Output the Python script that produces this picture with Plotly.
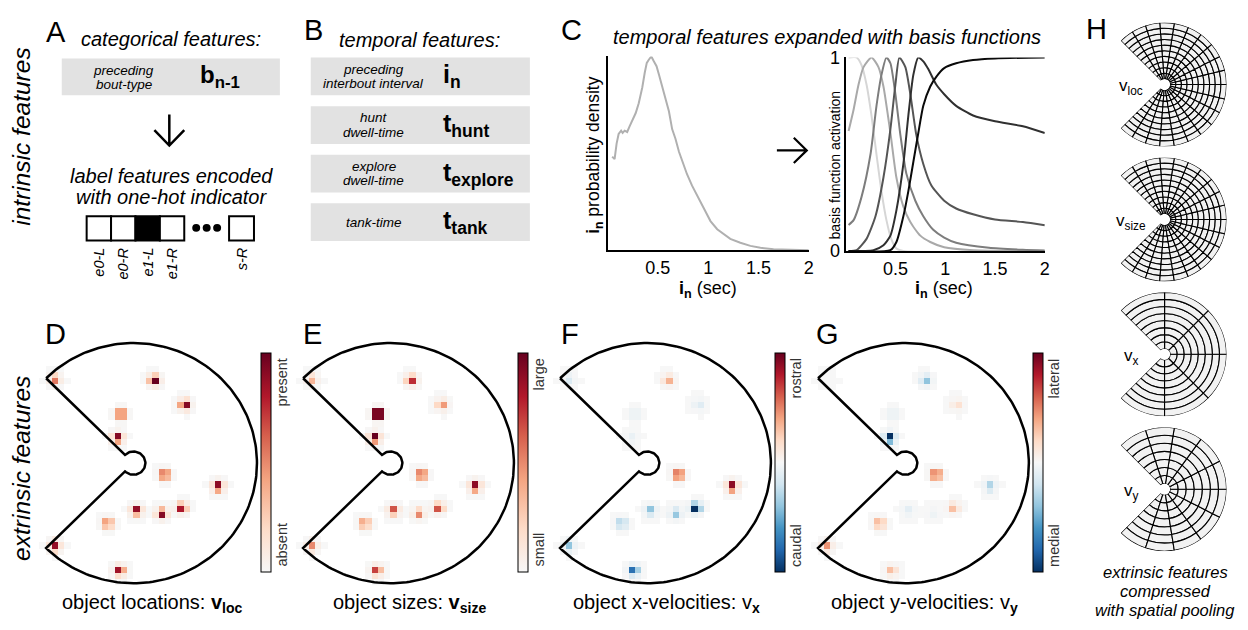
import numpy as np
import plotly.graph_objects as go

W, H = 1248, 630
FONT = "Liberation Sans, Arial, Helvetica, sans-serif"

# ------------------------------------------------------------------ data
ONEHOT_LABELS = ["e0-L", "e0-R", "e1-L", "e1-R", "s-R"]
ONEHOT_ACTIVE = [0, 0, 1, 0, 0]

TEMPORAL_DESC = [["preceding", "interbout interval"], ["hunt", "dwell-time"],
                 ["explore", "dwell-time"], ["tank-time"]]
TEMPORAL_SYM = ["i", "t", "t", "t"]
TEMPORAL_SUB = ["n", "hunt", "explore", "tank"]

# panel C, left: interbout-interval density (normalised)
DENS_X = [0.046, 0.07, 0.09, 0.11, 0.135, 0.15, 0.17, 0.195, 0.22, 0.245, 0.28,
          0.31, 0.345, 0.37, 0.39, 0.41, 0.435, 0.46, 0.487, 0.51, 0.543, 0.576,
          0.61, 0.642, 0.675, 0.71, 0.742, 0.79, 0.84, 0.89, 0.957, 1.023, 1.09,
          1.156, 1.22, 1.32, 1.42, 1.52, 1.65, 1.82, 2.0]
DENS_Y = [0.483, 0.47, 0.55, 0.60, 0.617, 0.605, 0.617, 0.61, 0.64, 0.667, 0.708,
          0.758, 0.84, 0.917, 0.967, 0.983, 1.0, 0.975, 0.95, 0.908, 0.842, 0.783,
          0.717, 0.625, 0.575, 0.508, 0.458, 0.392, 0.333, 0.283, 0.208, 0.15,
          0.108, 0.083, 0.058, 0.038, 0.022, 0.012, 0.005, 0.002, 0.0]

# panel C, right: basis functions
BASIS_X = [
    [0.03, 0.11, 0.16, 0.21, 0.26, 0.31, 0.36, 0.41, 0.46, 0.51, 0.58, 2.0],
    [0.03, 0.08, 0.13, 0.18, 0.26, 0.33, 0.38, 0.45, 0.51, 0.58, 0.65, 0.75, 0.85, 0.99, 1.28, 2.0],
    [0.03, 0.08, 0.16, 0.25, 0.31, 0.36, 0.41, 0.45, 0.5, 0.55, 0.61, 0.7, 0.78, 0.88, 0.99, 1.11, 1.44, 1.78, 2.0],
    [0.03, 0.11, 0.21, 0.3, 0.38, 0.45, 0.5, 0.54, 0.6, 0.65, 0.71, 0.78, 0.86, 0.99, 1.11, 1.28, 1.5, 1.78, 2.0],
    [0.03, 0.28, 0.38, 0.45, 0.51, 0.58, 0.63, 0.68, 0.73, 0.78, 0.83, 0.91, 0.99, 1.11, 1.28, 1.5, 1.78, 2.0],
    [0.03, 0.45, 0.51, 0.58, 0.63, 0.68, 0.73, 0.78, 0.85, 0.91, 0.99, 1.11, 1.28, 1.5, 2.0],
]
BASIS_Y = [
    [1.0, 1.0, 0.96, 0.86, 0.70, 0.50, 0.31, 0.16, 0.06, 0.013, 0.0, 0.0],
    [0.62, 0.73, 0.86, 0.95, 1.0, 0.95, 0.85, 0.61, 0.38, 0.23, 0.15, 0.08, 0.047, 0.02, 0.005, 0.0],
    [0.135, 0.16, 0.28, 0.5, 0.75, 0.91, 1.0, 0.97, 0.81, 0.6, 0.4, 0.26, 0.18, 0.11, 0.07, 0.043, 0.017, 0.007, 0.003],
    [0.0, 0.005, 0.063, 0.18, 0.38, 0.63, 0.86, 1.0, 0.95, 0.81, 0.6, 0.45, 0.34, 0.26, 0.22, 0.19, 0.163, 0.15, 0.133],
    [0.0, 0.005, 0.03, 0.08, 0.21, 0.45, 0.7, 0.91, 1.0, 0.98, 0.94, 0.86, 0.81, 0.75, 0.70, 0.67, 0.645, 0.61],
    [0.0, 0.005, 0.047, 0.18, 0.31, 0.46, 0.61, 0.75, 0.85, 0.9, 0.945, 0.97, 0.987, 0.995, 1.0],
]
BASIS_COLORS = ["#d6d6d6", "#a9a9a9", "#7d7d7d", "#555555", "#303030", "#0a0a0a"]

# panels D-G: object positions on a 40x40 visual-field grid (column, row)
OBJ_COL = [7.0, 22.8, 27.7, 17.5, 17.0, 24.45, 33.0, 20.0, 24.0, 27.2, 15.4, 7.0, 17.3]
OBJ_ROW = [5.75, 5.85, 9.95, 11.5, 15.3, 21.45, 23.3, 27.25, 27.75, 26.8, 29.4, 33.1, 37.1]
VAL_LOC = [0.55, 1.0, 0.92, 0.42, 0.92, 0.5, 0.9, 0.88, 0.92, 0.82, 0.42, 0.88, 0.85]
VAL_SIZE = [0.35, 0.75, 0.45, 0.95, 1.0, 0.5, 0.9, 0.65, 0.5, 0.65, 0.38, 0.5, 0.7]
VAL_VX = [-0.15, 0.35, -0.12, -0.05, -0.07, 0.5, 0.9, -0.4, -0.38, -1.0, -0.25, -0.4, -0.75]
VAL_VY = [0.0, -0.4, 0.15, -0.05, -1.0, 0.45, -0.3, -0.1, -0.05, 0.3, 0.3, 0.45, 0.3]
GRID_N = 40

# panel H: spatial pooling grids
H_LABELS = ["loc", "size", "x", "y"]
H_RINGS = [10, 10, 8, 7]
H_SECTORS = [20, 20, 6, 10]

# ------------------------------------------------------------------ helpers
fig = go.Figure()
shapes, anns = [], []


def ann(x, y, text, size, angle=0, xa="center", ya="middle", color="black"):
    anns.append(dict(x=x, y=y, xref="x", yref="y", text=text, showarrow=False,
                     font=dict(family=FONT, size=size, color=color), textangle=angle,
                     xanchor=xa, yanchor=ya))


def rect(x0, y0, x1, y1, fill, line=0, lc="black"):
    shapes.append(dict(type="rect", xref="x", yref="y", x0=x0, y0=y0, x1=x1, y1=y1,
                       fillcolor=fill, line=dict(width=line, color=lc), layer="below"))


def path(d, width=2.5):
    shapes.append(dict(type="path", xref="x", yref="y", path=d,
                       line=dict(width=width, color="black")))


LET = 29
TITLE = 20

# ------------------------------------------------------------------ Panel A
ann(56, 23, "A", LET)
ann(172, 30, "<i>categorical features:</i>", TITLE)
rect(62, 50, 281, 88, "#e2e2e2")
ann(124, 62, "<i>preceding</i>", 13.5)
ann(124, 77, "<i>bout-type</i>", 13.5)
ann(199, 69, "<b>b<sub>n-1</sub></b>", 24, xa="left")
path("M170,108 L170,140 M155,124 L170,140 L185,124", 2.5)
ann(172, 171, "<i>label features encoded</i>", TITLE)
ann(172, 193, "<i>with one-hot indicator</i>", TITLE)
bx = [87, 111.5, 136, 160.5]
for i in range(4):
    rect(bx[i], 213, bx[i] + 24.5, 238, "black" if ONEHOT_ACTIVE[i] else "white", 2)
rect(230, 213, 255, 238, "black" if ONEHOT_ACTIVE[4] else "white", 2)
for cxd in [197, 207.5, 218]:
    shapes.append(dict(type="circle", xref="x", yref="y", x0=cxd - 4, x1=cxd + 4,
                       y0=221, y1=229, fillcolor="black", line=dict(width=0)))
lab_x = [bx[0] + 12.25, bx[1] + 12.25, bx[2] + 12.25, bx[3] + 12.25, 242.5]
for lx, lt in zip(lab_x, ONEHOT_LABELS):
    ann(lx, 243, "<i>%s</i>" % lt, 14.5, angle=-90, ya="top")
ann(22, 131, "<i>intrinsic features</i>", 24.5, angle=-90)

# ------------------------------------------------------------------ Panel B
ann(315, 21, "B", LET)
ann(421, 31, "<i>temporal features:</i>", TITLE)
row_y = [68.5, 119, 169, 219]
for ry, desc, s, sub in zip(row_y, TEMPORAL_DESC, TEMPORAL_SYM, TEMPORAL_SUB):
    rect(312, ry - 19.5, 532, ry + 19.5, "#e2e2e2")
    if len(desc) == 2:
        ann(375, ry - 7.5, "<i>%s</i>" % desc[0], 13.5)
        ann(375, ry + 7.5, "<i>%s</i>" % desc[1], 13.5)
    else:
        ann(375, ry, "<i>%s</i>" % desc[0], 13.5)
    ann(443, ry, "<b>%s<sub>%s</sub></b>" % (s, sub), 25, xa="left")

# ------------------------------------------------------------------ Panel C
ann(574, 21, "C", LET)
ann(830, 28, "<i>temporal features expanded with basis functions</i>", TITLE)
fig.add_trace(go.Scatter(x=DENS_X, y=DENS_Y, mode="lines", xaxis="x2", yaxis="y2",
                         line=dict(color="#b0b0b0", width=2), hoverinfo="skip",
                         showlegend=False))
for bxs, bys, col in zip(BASIS_X, BASIS_Y, BASIS_COLORS):
    fig.add_trace(go.Scatter(x=bxs, y=bys, mode="lines", xaxis="x3", yaxis="y3",
                             line=dict(color=col, width=2, shape="spline", smoothing=0.6),
                             hoverinfo="skip", showlegend=False))
path("M780,145 L810,145 M797,132 L810,145 L797,158", 2.2)
ann(711, 289, "<b>i<sub>n</sub></b> (sec)", 18)
ann(948, 289, "<b>i<sub>n</sub></b> (sec)", 18)
ann(597, 150, "<b>i<sub>n</sub></b> probability density", 17.5, angle=-90)
ann(838, 160, "basis function activation", 14, angle=-90)

# ------------------------------------------------------------------ Panels D-G
CS = 6.3
CY = 468
R_OUT, R_IN = 124, 12
panel_cx = [134, 392, 650, 909]
letters = ["D", "E", "F", "G"]
titles = ["object locations: <b>v<sub>loc</sub></b>",
          "object sizes: <b>v<sub>size</sub></b>",
          "object x-velocities: v<sub><b>x</b></sub>",
          "object y-velocities: v<sub><b>y</b></sub>"]
cb_labels = [("present", "absent"), ("large", "small"), ("rostral", "caudal"),
             ("lateral", "medial")]
values = [VAL_LOC, VAL_SIZE, VAL_VX, VAL_VY]

REDS = [[0.0, "#f7f7f7"], [0.2, "#fddbc7"], [0.42, "#f4a582"], [0.62, "#d6604d"],
        [0.8, "#b2182b"], [1.0, "#67001f"]]
RDBU = [[0.0, "#053061"], [0.1, "#2166ac"], [0.2, "#4393c3"], [0.3, "#92c5de"],
        [0.4, "#d1e5f0"], [0.5, "#f7f7f7"], [0.6, "#fddbc7"], [0.7, "#f4a582"],
        [0.8, "#d6604d"], [0.9, "#b2182b"], [1.0, "#67001f"]]


def blob_grid(cols, rows, vals):
    z = np.full((GRID_N, GRID_N), np.nan)
    for c, r, v in zip(cols, rows, vals):
        i0, j0 = int(np.floor(c)) - 2, int(np.floor(r)) - 2
        cells = [(i, j) for i in range(i0, i0 + 6) for j in range(j0, j0 + 6)]
        d2 = {(i, j): (i - c) ** 2 + (j - r) ** 2 for (i, j) in cells}
        dmin = min(d2.values())
        for (i, j), dd in d2.items():
            if dd <= 4.3 and 0 <= i < GRID_N and 0 <= j < GRID_N:
                val = v * np.exp(-(dd - dmin) / 0.5)
                cur = z[j, i]
                if np.isnan(cur) or abs(val) > abs(cur):
                    z[j, i] = val
    return z


for k in range(4):
    cx = panel_cx[k]
    ox, oy = cx - 20 * CS, CY - 20 * CS
    diverging = k >= 2
    z = blob_grid(OBJ_COL, OBJ_ROW, values[k])
    fig.add_trace(go.Heatmap(
        z=z, x0=ox + CS / 2, dx=CS, y0=oy + CS / 2, dy=CS, xaxis="x", yaxis="y",
        colorscale=RDBU if diverging else REDS,
        zmin=-1 if diverging else 0, zmax=1, hoverinfo="skip",
        colorbar=dict(x=(cx + 128) / W, xanchor="left", y=1 - 467.5 / H, yanchor="middle",
                      len=219, lenmode="pixels", thickness=10, thicknessmode="pixels",
                      outlinewidth=1, outlinecolor="black", showticklabels=False,
                      ticks="", xpad=0, ypad=0)))
    # pac-man outline
    a_out = np.radians(np.linspace(135, -135, 181))
    a_in = np.radians(np.linspace(-135, 135, 61))
    xs = list(cx + R_OUT * np.cos(a_out)) + list(cx + R_IN * np.cos(a_in)) + [cx + R_OUT * np.cos(np.radians(135))]
    ys = list(CY - R_OUT * np.sin(a_out)) + list(CY - R_IN * np.sin(a_in)) + [CY - R_OUT * np.sin(np.radians(135))]
    fig.add_trace(go.Scatter(x=xs, y=ys, mode="lines", xaxis="x", yaxis="y",
                             line=dict(color="black", width=2.5), hoverinfo="skip",
                             showlegend=False))
    ann(cx - 78, 335, letters[k], LET)
    ann(cx + 19, 613, titles[k], TITLE)
    ann(cx + 149, 358, cb_labels[k][0], 14.5, angle=-90, ya="top", color="#333333")
    ann(cx + 149, 577, cb_labels[k][1], 14.5, angle=-90, ya="bottom", color="#333333")

ann(22, 473, "<i>extrinsic features</i>", 24.5, angle=-90)

# ------------------------------------------------------------------ Panel H
ann(1101, 20, "H", LET)
polar_layout = {}
HC_X, HR = 1169, 64
for k, (lab, nr, ns) in enumerate(zip(H_LABELS, H_RINGS, H_SECTORS)):
    cy = 77 + 139.3 * k
    wdt = 270.0 / ns
    th, base, rr = [], [], []
    for i in range(nr):
        for j in range(ns):
            th.append(-135 + (j + 0.5) * wdt)
            base.append(i)
            rr.append(1)
    name = "polar" if k == 0 else "polar%d" % (k + 1)
    fig.add_trace(go.Barpolar(r=rr, theta=th, base=base, width=[wdt] * len(th),
                              subplot=name, hoverinfo="skip", showlegend=False,
                              marker=dict(color="#f2f2f2", line=dict(color="black", width=1.1))))
    polar_layout[name] = dict(
        domain=dict(x=[(HC_X - 0.7071 * HR) / W, (HC_X + HR) / W],
                    y=[1 - (cy + HR) / H, 1 - (cy - HR) / H]),
        sector=[-135, 135], hole=0.09, bgcolor="rgba(0,0,0,0)", bargap=0,
        barmode="overlay",
        radialaxis=dict(visible=False, range=[0, nr]),
        angularaxis=dict(visible=False, rotation=0, direction="counterclockwise"))
    ann(1136, cy + 3, "v<sub>%s</sub>" % lab, 17)

ann(1170, 580, "<i>extrinsic features</i>", 16.5)
ann(1170, 600, "<i>compressed</i>", 16.5)
ann(1170, 620, "<i>with spatial pooling</i>", 16.5)

# ------------------------------------------------------------------ layout
ax_common = dict(showgrid=False, zeroline=False, showline=True, linecolor="black",
                 linewidth=2, ticks="", tickfont=dict(family=FONT, size=18, color="black"),
                 fixedrange=True)
fig.update_layout(
    width=W, height=H, margin=dict(l=0, r=0, t=0, b=0),
    paper_bgcolor="white", plot_bgcolor="rgba(0,0,0,0)", showlegend=False,
    font=dict(family=FONT, color="black"),
    xaxis=dict(domain=[0, 1], range=[0, W], visible=False, fixedrange=True),
    yaxis=dict(domain=[0, 1], range=[H, 0], visible=False, fixedrange=True),
    xaxis2=dict(domain=[610 / W, 812 / W], range=[0, 2], anchor="y2",
                tickvals=[0.5, 1, 1.5, 2], ticktext=["0.5", "1", "1.5", "2"], **ax_common),
    yaxis2=dict(domain=[1 - 248 / H, 1 - 48 / H], range=[0, 1.0], anchor="x2",
                showticklabels=False, **ax_common),
    xaxis3=dict(domain=[849 / W, 1049 / W], range=[0, 2], anchor="y3",
                tickvals=[0.5, 1, 1.5, 2], ticktext=["0.5", "1", "1.5", "2"], **ax_common),
    yaxis3=dict(domain=[1 - 249 / H, 1 - 49 / H], range=[0, 1.0], anchor="x3",
                tickvals=[0, 1], ticktext=["0", "1"], **ax_common),
    shapes=shapes, annotations=anns,
    **polar_layout,
)

fig.write_html("out.html")
